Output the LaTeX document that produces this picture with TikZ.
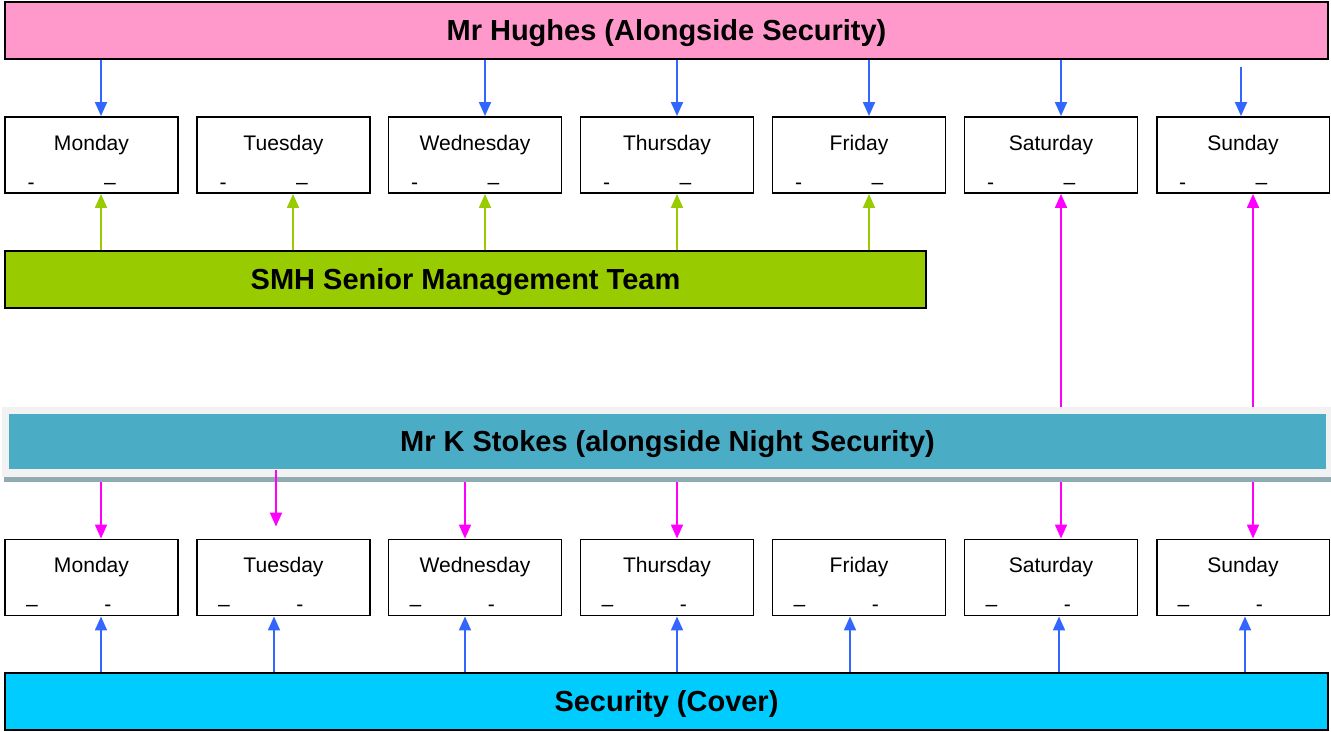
\documentclass[tikz,border=0pt]{standalone}
\usepackage{fontspec}
\setmainfont{Liberation Sans}
\usepackage{xcolor}
\usetikzlibrary{arrows.meta,calc,positioning}
\definecolor{hughespink}{HTML}{FF99CC}
\definecolor{smhgreen}{HTML}{99CC00}
\definecolor{stokesteal}{HTML}{4BACC6}
\definecolor{stokesbg}{HTML}{F2F2F2}
\definecolor{stokesshade}{HTML}{8FAAB1}
\definecolor{covercyan}{HTML}{00CCFF}
\definecolor{arrowblue}{HTML}{3366FF}
\definecolor{arrowmagenta}{HTML}{FF00FF}
\tikzset{
	teambox/.style = {
			draw            = black,
			line width      = 1.1pt,
			inner sep       = 0pt,
			minimum height  = 1.14cm,
			text height     = 12pt,
			text depth      = 0.7pt,
			font            = \fontsize{16.5}{19}\selectfont\bfseries,
		},
	daybox/.style = {
			draw            = black,
			fill            = white,
			line width      = 1.1pt,
			inner sep       = 0pt,
			minimum width   = 3.46cm,
			minimum height  = 1.52cm,
			text height     = 8pt,
			text depth      = 13.4pt,
			font            = \fontsize{12}{14}\selectfont,
		},
	dashmark/.style = {inner sep=0pt, font=\fontsize{12}{14}\selectfont},
	bluearrow/.style = {-{Triangle[width=0.24cm,length=0.28cm]}, draw=arrowblue, line width=1.1pt},
	greenarrow/.style = {-{Triangle[width=0.24cm,length=0.28cm]}, draw=smhgreen, line width=1.1pt},
	pinkarrow/.style = {-{Triangle[width=0.24cm,length=0.28cm]}, draw=arrowmagenta, line width=1.1pt},
}

\begin{document}
\begin{tikzpicture}[x=0.02cm,y=0.02cm]
			\useasboundingbox (0,0) rectangle (1331,732);
			% Heads of the rota
			\node[teambox,fill=hughespink,minimum width=26.46cm] (hughes) at (666.5,701.5) {Mr Hughes (Alongside Security)};
			\node[teambox,fill=smhgreen,minimum width=18.42cm] (smh) at (465.5,452.5) {SMH Senior Management Team};
			\node[fill=stokesbg,inner sep=0pt,minimum width=26.58cm,minimum height=1.4cm] (stokesbg) at (666.5,290) {};
			\node[fill=stokesshade,inner sep=0pt,minimum width=26.54cm,minimum height=0.1cm] (stokesshadow) at (667.5,252.5) {};
			\node[teambox,draw=none,fill=stokesteal,minimum width=26.34cm,minimum height=1.1cm] (stokes) at (667.5,290.5) {Mr K Stokes (alongside Night Security)};
			\node[teambox,fill=covercyan,minimum width=26.46cm] (cover) at (666.5,30.5) {Security (Cover)};

			% Day shifts
			\node[daybox] (mon1) at (91.5,577) {Monday};
			\node[daybox] (tue1) at (283.5,577) {Tuesday};
			\node[daybox] (wed1) at (475,577) {Wednesday};
			\node[daybox] (thu1) at (667,577) {Thursday};
			\node[daybox] (fri1) at (859,577) {Friday};
			\node[daybox] (sat1) at (1051,577) {Saturday};
			\node[daybox] (sun1) at (1243,577) {Sunday};

			\node[daybox] (mon2) at (91.5,154.5) {Monday};
			\node[daybox] (tue2) at (283.5,154.5) {Tuesday};
			\node[daybox] (wed2) at (475,154.5) {Wednesday};
			\node[daybox] (thu2) at (667,154.5) {Thursday};
			\node[daybox] (fri2) at (859,154.5) {Friday};
			\node[daybox] (sat2) at (1051,154.5) {Saturday};
			\node[daybox] (sun2) at (1243,154.5) {Sunday};

			\node[dashmark] (mon1d) at ($(mon1.center)+(-19.75,-31.5)$) {-\hspace{1.39cm}–};
			\node[dashmark] (tue1d) at ($(tue1.center)+(-19.75,-31.5)$) {-\hspace{1.39cm}–};
			\node[dashmark] (wed1d) at ($(wed1.center)+(-19.75,-31.5)$) {-\hspace{1.39cm}–};
			\node[dashmark] (thu1d) at ($(thu1.center)+(-19.75,-31.5)$) {-\hspace{1.39cm}–};
			\node[dashmark] (fri1d) at ($(fri1.center)+(-19.75,-31.5)$) {-\hspace{1.39cm}–};
			\node[dashmark] (sat1d) at ($(sat1.center)+(-19.75,-31.5)$) {-\hspace{1.39cm}–};
			\node[dashmark] (sun1d) at ($(sun1.center)+(-19.75,-31.5)$) {-\hspace{1.39cm}–};

			\node[dashmark] (mon2d) at ($(mon2.center)+(-22.75,-31)$) {–\hspace{1.33cm}-};
			\node[dashmark] (tue2d) at ($(tue2.center)+(-22.75,-31)$) {–\hspace{1.33cm}-};
			\node[dashmark] (wed2d) at ($(wed2.center)+(-22.75,-31)$) {–\hspace{1.33cm}-};
			\node[dashmark] (thu2d) at ($(thu2.center)+(-22.75,-31)$) {–\hspace{1.33cm}-};
			\node[dashmark] (fri2d) at ($(fri2.center)+(-22.75,-31)$) {–\hspace{1.33cm}-};
			\node[dashmark] (sat2d) at ($(sat2.center)+(-22.75,-31)$) {–\hspace{1.33cm}-};
			\node[dashmark] (sun2d) at ($(sun2.center)+(-22.75,-31)$) {–\hspace{1.33cm}-};

			% Mr Hughes
			\draw[bluearrow] ($(mon1.north |- hughes.south)+(9.5,0)$) to ($(mon1.north)+(9.5,0)$);
			\draw[bluearrow] ($(wed1.north |- hughes.south)+(10,0)$) to ($(wed1.north)+(10,0)$);
			\draw[bluearrow] ($(thu1.north |- hughes.south)+(10,0)$) to ($(thu1.north)+(10,0)$);
			\draw[bluearrow] ($(fri1.north |- hughes.south)+(10,0)$) to ($(fri1.north)+(10,0)$);
			\draw[bluearrow] ($(sat1.north |- hughes.south)+(10,0)$) to ($(sat1.north)+(10,0)$);
			\draw[bluearrow] ($(sun1.north |- hughes.south)+(-2,-7)$) to ($(sun1.north)+(-2,0)$);

			% SMH
			\draw[greenarrow] ($(mon1.south |- smh.north)+(9.5,0)$) to ($(mon1.south)+(9.5,0)$);
			\draw[greenarrow] ($(tue1.south |- smh.north)+(9.5,0)$) to ($(tue1.south)+(9.5,0)$);
			\draw[greenarrow] ($(wed1.south |- smh.north)+(10,0)$) to ($(wed1.south)+(10,0)$);
			\draw[greenarrow] ($(thu1.south |- smh.north)+(10,0)$) to ($(thu1.south)+(10,0)$);
			\draw[greenarrow] ($(fri1.south |- smh.north)+(10,0)$) to ($(fri1.south)+(10,0)$);

			% Mr K Stokes
			\draw[pinkarrow] ($(sat1.south |- stokesbg.north)+(10,0)$) to ($(sat1.south)+(10,0)$);
			\draw[pinkarrow] ($(sun1.south |- stokesbg.north)+(10,0)$) to ($(sun1.south)+(10,0)$);
			\draw[pinkarrow] ($(mon2.north |- stokesshadow.south)+(9.5,0)$) to ($(mon2.north)+(9.5,0)$);
			\draw[pinkarrow] ($(tue2.north |- stokes.south)+(-7.5,0)$) to ($(tue2.north)+(-7.5,12)$);
			\draw[pinkarrow] ($(wed2.north |- stokesshadow.south)+(-10,0)$) to ($(wed2.north)+(-10,0)$);
			\draw[pinkarrow] ($(thu2.north |- stokesshadow.south)+(10,0)$) to ($(thu2.north)+(10,0)$);
			\draw[pinkarrow] ($(sat2.north |- stokesshadow.south)+(10,0)$) to ($(sat2.north)+(10,0)$);
			\draw[pinkarrow] ($(sun2.north |- stokesshadow.south)+(10,0)$) to ($(sun2.north)+(10,0)$);

			% Security cover
			\draw[bluearrow] ($(mon2.south |- cover.north)+(9.5,0)$) to ($(mon2.south)+(9.5,0)$);
			\draw[bluearrow] ($(tue2.south |- cover.north)+(-9.5,0)$) to ($(tue2.south)+(-9.5,0)$);
			\draw[bluearrow] ($(wed2.south |- cover.north)+(-10,0)$) to ($(wed2.south)+(-10,0)$);
			\draw[bluearrow] ($(thu2.south |- cover.north)+(10,0)$) to ($(thu2.south)+(10,0)$);
			\draw[bluearrow] ($(fri2.south |- cover.north)+(-9,0)$) to ($(fri2.south)+(-9,0)$);
			\draw[bluearrow] ($(sat2.south |- cover.north)+(8,0)$) to ($(sat2.south)+(8,0)$);
			\draw[bluearrow] ($(sun2.south |- cover.north)+(2,0)$) to ($(sun2.south)+(2,0)$);
		\end{tikzpicture}
\end{document}
